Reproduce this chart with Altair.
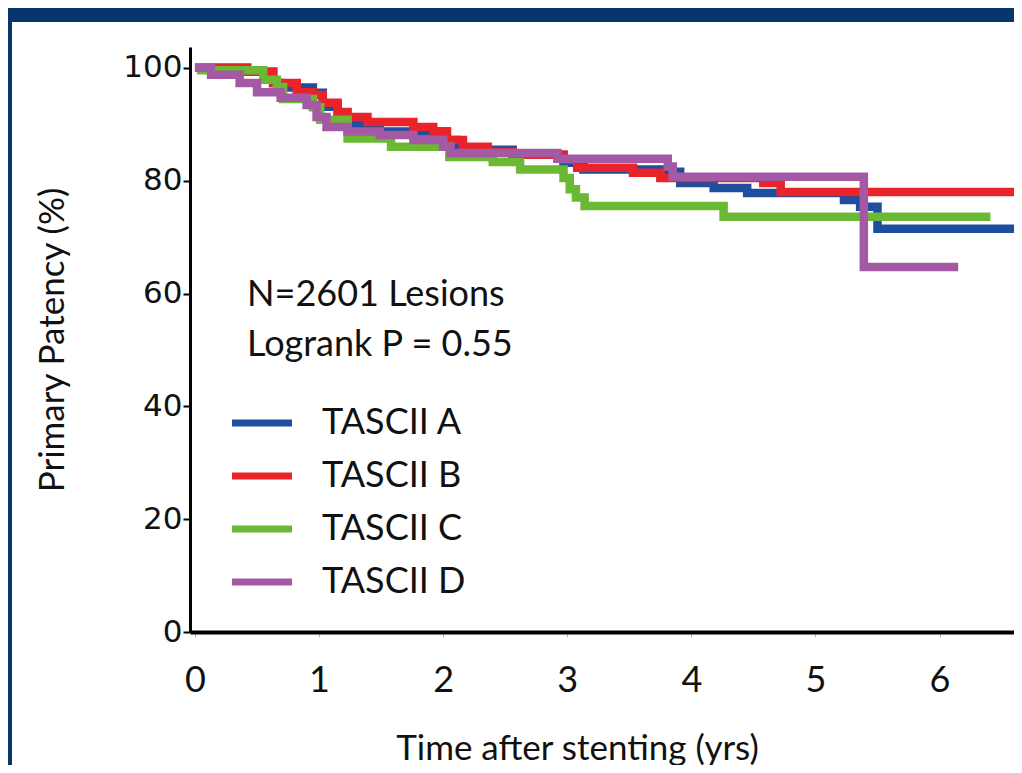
import altair as alt
import pandas as pd

# ---- data ----
series_names = ["TASCII A", "TASCII B", "TASCII C", "TASCII D"]
series_colors = ["#1f4e9f", "#e8232a", "#6ab833", "#a459a4"]

a_time = [0.0, 0.42, 0.63, 0.69, 0.95, 1.03, 1.15, 1.27, 1.49, 2.03, 2.11, 2.56, 2.97, 3.13, 3.75, 3.91, 4.18, 4.45, 5.23, 5.36, 5.50, 6.60]
a_val = [100, 99.3, 97.3, 96.5, 95.6, 93.1, 91.1, 89.9, 88.7, 87.2, 85.5, 84.6, 83.2, 82.0, 81.6, 79.6, 78.7, 77.8, 76.6, 75.4, 71.5, 71.5]

b_time = [0.0, 0.42, 0.63, 0.82, 0.95, 1.03, 1.15, 1.23, 1.39, 1.76, 1.92, 2.03, 2.16, 2.36, 2.56, 2.97, 3.08, 3.53, 3.75, 4.58, 4.72, 6.60]
b_val = [100, 99.3, 97.3, 95.7, 95.2, 93.8, 92.2, 91.3, 90.4, 89.5, 88.7, 87.2, 86.0, 85.1, 84.6, 83.7, 82.3, 81.4, 80.5, 79.6, 78.0, 78.0]

c_time = [0.0, 0.05, 0.55, 0.66, 0.71, 0.95, 1.01, 1.23, 1.58, 2.05, 2.40, 2.62, 2.97, 3.02, 3.07, 3.14, 4.26, 6.41]
c_val = [100, 99.6, 97.9, 96.6, 94.5, 93.0, 90.8, 87.5, 86.0, 84.2, 83.3, 82.0, 80.5, 78.5, 77.0, 75.5, 73.6, 73.6]

d_time = [0.0, 0.13, 0.36, 0.50, 0.69, 0.90, 0.98, 1.06, 1.23, 1.49, 1.76, 2.00, 2.06, 2.92, 3.81, 3.85, 5.39, 6.15]
d_val = [100, 98.8, 97.3, 95.7, 94.7, 93.4, 91.3, 89.5, 88.7, 88.1, 87.2, 86.0, 84.9, 83.9, 82.5, 80.7, 64.7, 64.7]

x_ticks = [0, 1, 2, 3, 4, 5, 6]
y_ticks = [0, 20, 40, 60, 80, 100]

note_lines = ["N=2601 Lesions", "Logrank P = 0.55"]
note_x = [0.42, 0.42]
note_y = [59.8, 50.9]

# ---- tables ----
rows = []
for name, ts, vs in zip(series_names, [a_time, b_time, c_time, d_time], [a_val, b_val, c_val, d_val]):
    for t, v in zip(ts, vs):
        rows.append({"series": name, "time": t, "patency": v})
curves = pd.DataFrame(rows)
notes = pd.DataFrame({"text": note_lines, "time": note_x, "patency": note_y})

W, H = 824, 585

x_scale = alt.Scale(domain=[-0.04, 6.6], nice=False, zero=False)
y_scale = alt.Scale(domain=[0, 103.7], nice=False, zero=False)

panel = alt.Chart(pd.DataFrame({"k": [0]})).mark_rect(color="white").encode(
    x=alt.value(-178), x2=alt.value(W + 20), y=alt.value(-25), y2=alt.value(H + 160)
)

lines = alt.Chart(curves).mark_line(interpolate="step-after", strokeWidth=8.5).encode(
    x=alt.X("time:Q", scale=x_scale,
            axis=alt.Axis(values=x_ticks, format="d", title="Time after stenting (yrs)", grid=False,
                          labelFont="Lato", labelFontSize=36, labelColor="#111",
                          tickSize=5, tickColor="#bbbbbb", tickWidth=1,
                          domainColor="black", domainWidth=4, labelPadding=26,
                          titleFont="Lato", titleFontSize=35, titleFontWeight="normal",
                          titleColor="#111", titlePadding=33, titleX=387, zindex=1)),
    y=alt.Y("patency:Q", scale=y_scale,
            axis=alt.Axis(values=y_ticks, format="d", title="Primary Patency (%)", grid=False,
                          labelFont="DejaVu Sans", labelFontSize=31, labelColor="#111",
                          tickSize=7, tickColor="black", tickWidth=2,
                          domainColor="black", domainWidth=3, labelPadding=1,
                          titleFont="Lato", titleFontSize=35, titleFontWeight="normal",
                          titleColor="#111", titlePadding=52, zindex=1)),
    color=alt.Color("series:N", title=None,
                    scale=alt.Scale(domain=series_names, range=series_colors),
                    legend=alt.Legend(orient="none", legendX=54, legendY=358,
                                      symbolType="M-3,0H3", symbolSize=400,
                                      symbolStrokeWidth=7, labelFont="Lato",
                                      labelFontSize=36, labelColor="#111",
                                      labelOffset=42, rowPadding=17)),
    order=alt.Order("time:Q"),
)

texts = alt.Chart(notes).mark_text(align="left", baseline="middle", font="Lato",
                                   fontSize=36, color="#111").encode(
    x=alt.X("time:Q", scale=x_scale), y=alt.Y("patency:Q", scale=y_scale), text="text:N"
)

chart = alt.layer(panel, lines, texts).properties(
    width=W, height=H,
    autosize=alt.AutoSizeParams(type="none"),
    padding={"left": 182, "top": 39, "right": 0, "bottom": 133},
    background="#06366a",
).configure_view(stroke=None)

chart.save("out.html", embed_options={"renderer": "svg", "actions": False})
